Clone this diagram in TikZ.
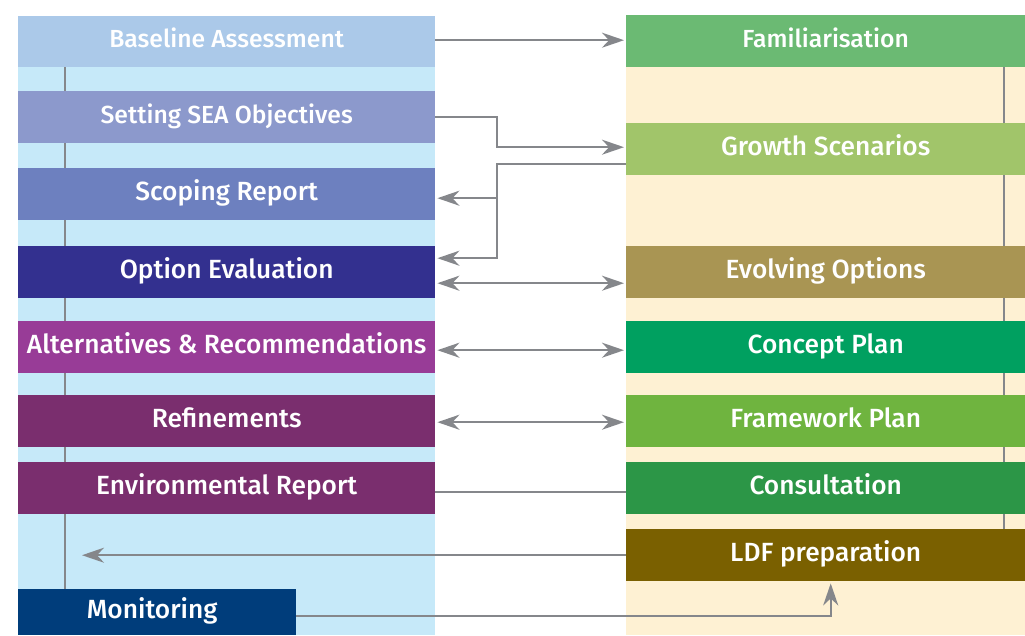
\documentclass[tikz,border=0pt]{standalone}
\usepackage{fontspec}
\setmainfont{Fira Sans}[UprightFont={* Medium}]
\usetikzlibrary{arrows.meta}

\definecolor{leftbg}{HTML}{C6E9F9}
\definecolor{rightbg}{HTML}{FEF1D3}
\definecolor{linegray}{HTML}{85878B}
\definecolor{cBaseline}{HTML}{ABC9E9}
\definecolor{cObjectives}{HTML}{8C99CC}
\definecolor{cScoping}{HTML}{6D80BF}
\definecolor{cEvaluation}{HTML}{33308F}
\definecolor{cAlternatives}{HTML}{983C97}
\definecolor{cRefinements}{HTML}{7A2E6E}
\definecolor{cMonitoring}{HTML}{003D7B}
\definecolor{cFamiliar}{HTML}{6BBA73}
\definecolor{cGrowth}{HTML}{A1C56A}
\definecolor{cEvolving}{HTML}{A99553}
\definecolor{cConcept}{HTML}{00A060}
\definecolor{cFramework}{HTML}{6FB43F}
\definecolor{cConsultation}{HTML}{2C9647}
\definecolor{cLDF}{HTML}{7A6000}

\tikzset{
  stage/.style={rectangle, anchor=north west, inner sep=0pt, text=white,
    minimum height=52pt, text height=18pt, text depth=6pt,
    font=\fontsize{26.3}{30}\selectfont},
  leftstage/.style={stage, minimum width=417pt},
  rightstage/.style={stage, minimum width=399pt},
  smalltext/.style={font=\fontsize{24.7}{28}\selectfont},
  conn/.style={draw=linegray, line width=2.2pt},
  tip/.style={-{Stealth[length=22pt, width=15pt, inset=7pt]}, shorten >=2pt},
  tips/.style={{Stealth[length=22pt, width=15pt, inset=7pt]}-{Stealth[length=22pt, width=15pt, inset=7pt]}, shorten >=2pt, shorten <=2pt},
}

\begin{document}
\begin{tikzpicture}[x=1pt, y=-1pt]
\useasboundingbox (0,0) rectangle (1025,635);

% column backgrounds
\fill[leftbg] (18,16) rectangle (435,635);
\fill[rightbg] (626,15) rectangle (1025,635);

% timeline spines
\draw[conn] (65,67) -- (65,589);
\draw[conn] (1004,67) -- (1004,529);

% SEA process (left)
\node[leftstage, fill=cBaseline, minimum height=51pt, smalltext] (baseline) at (18,16) {Baseline Assessment};
\node[leftstage, fill=cObjectives, smalltext] (objectives) at (18,91) {Setting SEA Objectives};
\node[leftstage, fill=cScoping] (scoping) at (18,168) {Scoping Report};
\node[leftstage, fill=cEvaluation] (evaluation) at (18,246) {Option Evaluation};
\node[leftstage, fill=cAlternatives] (alternatives) at (18,321) {Alternatives \& Recommendations};
\node[leftstage, fill=cRefinements] (refinements) at (18,395) {Refinements};
\node[leftstage, fill=cRefinements] (envreport) at (18,462) {Environmental Report};
\node[stage, fill=cMonitoring, minimum width=278pt, minimum height=46pt] (monitoring) at (18,589) {Monitoring\hspace*{10pt}};

% plan-making process (right)
\node[rightstage, fill=cFamiliar, smalltext] (familiar) at (626,15) {Familiarisation};
\node[rightstage, fill=cGrowth] (growth) at (626,123) {Growth Scenarios};
\node[rightstage, fill=cEvolving] (evolving) at (626,246) {Evolving Options};
\node[rightstage, fill=cConcept] (concept) at (626,321) {Concept Plan};
\node[rightstage, fill=cFramework] (framework) at (626,395) {Framework Plan};
\node[rightstage, fill=cConsultation] (consultation) at (626,462) {Consultation};
\node[rightstage, fill=cLDF] (ldf) at (626,529) {LDF preparation};

% routing points
\coordinate (bend) at (497,0);
\coordinate (spineend) at (82,0);
\coordinate (scopein) at ([yshift=-4pt]scoping.east);

% links between the two processes
\draw[conn, tip] ([yshift=1.5pt]baseline.east) -- ([yshift=1pt]familiar.west);
\draw[conn, tip] (objectives.east) -- (objectives.east -| bend) |- ([yshift=2pt]growth.west);
\draw[conn, tip] ([yshift=-15pt]growth.west) -- ([yshift=-15pt]growth.west -| bend) |- ([yshift=14pt]evaluation.east);
\draw[conn, tip] (bend |- scopein) -- (scopein);
\draw[conn, tips] ([yshift=-11pt]evaluation.east) -- ([yshift=-11pt]evolving.west);
\draw[conn, tips] ([yshift=-3pt]alternatives.east) -- ([yshift=-3pt]concept.west);
\draw[conn, tips] ([yshift=-1pt]refinements.east) -- ([yshift=-1pt]framework.west);
\draw[conn] ([yshift=-4pt]envreport.east) -- ([yshift=-4pt]consultation.west);
\draw[conn, -{Stealth[length=22pt, width=15pt, inset=7pt]}] (ldf.west) -- (ldf.west -| spineend);
\draw[conn, tip] ([yshift=-4pt]monitoring.east) -| ([xshift=5pt]ldf.south);
\end{tikzpicture}
\end{document}
